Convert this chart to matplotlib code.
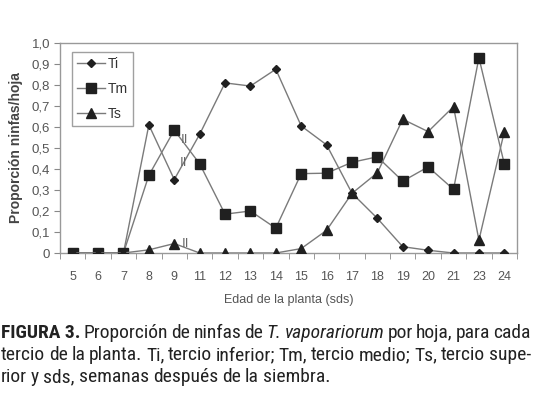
"""
Proporcion de ninfas por hoja, por tercio de la planta (Figura 3).
"""
import matplotlib
matplotlib.use("Agg")
import matplotlib.pyplot as plt
import numpy as np

plt.rcParams['font.family'] = ['Liberation Sans', 'DejaVu Sans']
CAP_FONT = ['Roboto Condensed', 'Liberation Sans', 'DejaVu Sans']

# DATA
#####################
semanas = ['5', '6', '7', '8', '9', '11', '12', '13', '14', '15', '16', '17', '18', '19', '20', '21', '23', '24']
ti = [0, 0, 0, 0.61, 0.35, 0.565, 0.81, 0.795, 0.875, 0.605, 0.515, 0.285, 0.165, 0.03, 0.013, 0, 0, 0]
tm = [0, 0, 0, 0.37, 0.585, 0.425, 0.185, 0.2, 0.118, 0.378, 0.38, 0.432, 0.458, 0.342, 0.41, 0.303, 0.93, 0.424]
ts = [0, 0, 0, 0.015, 0.045, 0, 0, 0, 0, 0.021, 0.108, 0.284, 0.382, 0.637, 0.578, 0.697, 0.061, 0.578]
yticks = [0, 0.1, 0.2, 0.3, 0.4, 0.5, 0.6, 0.7, 0.8, 0.9, 1.0]
ytick_labels = ['0', '0,1', '0,2', '0,3', '0,4', '0,5', '0,6', '0,7', '0,8', '0,9', '1,0']

W, H = 537, 393
fig = plt.figure(figsize=(W / 100, H / 100), dpi=100)
ax = fig.add_axes([60 / W, 1 - 253 / H, (517 - 60) / W, (253 - 43) / H])

line_c = '#7a7a7a'
mark_c = '#202020'
x = np.arange(len(semanas))
ax.plot(x, ti, color=line_c, lw=1.0, marker='D', ms=4.5, mfc=mark_c, mec=mark_c, label='Ti', zorder=3)
ax.plot(x, tm, color=line_c, lw=1.0, marker='s', ms=6.5, mfc=mark_c, mec=mark_c, label='Tm', zorder=3)
ax.plot(x, ts, color=line_c, lw=1.0, marker='^', ms=6.5, mfc=mark_c, mec=mark_c, label='Ts', zorder=3)

# break marks between 9 and 11
for xx, yy in [(4.4, 0.54), (4.35, 0.43), (4.45, 0.045)]:
    ax.text(xx, yy, 'II', fontsize=9.5, color='#666666', ha='center', va='center', zorder=4)

ax.set_xlim(-0.5, len(semanas) - 0.5)
ax.set_ylim(0, 1.0)
ax.set_yticks(yticks)
ax.set_yticklabels(ytick_labels)
ax.set_xticks(x)
ax.set_xticklabels(semanas)
ax.set_xticks(np.arange(-0.5, len(semanas), 1), minor=True)
ax.tick_params(axis='x', which='major', length=0, pad=13, labelsize=9, labelcolor='#555555')
ax.tick_params(axis='x', which='minor', length=4, color='#888888', direction='out')
ax.tick_params(axis='y', length=4, color='#888888', labelsize=9.5, labelcolor='#555555', pad=3)
for s in ax.spines.values():
    s.set_color('#999999')
    s.set_linewidth(1.0)

ax.set_xlabel('Edad de la planta (sds)', fontsize=9, color='#555555', labelpad=8)
ax.set_ylabel('Proporción ninfas/hoja', fontsize=10, color='#444444', fontweight='bold', labelpad=6)

leg = ax.legend(loc='upper left', bbox_to_anchor=(0.027, 0.957), fontsize=10, frameon=True,
                fancybox=False, edgecolor='#888888', handlelength=2.0, borderpad=0.35,
                labelspacing=0.8, handletextpad=0.2, borderaxespad=0)
leg.get_frame().set_linewidth(1.0)
for t in leg.get_texts():
    t.set_color('#333333')

# CAPTION (justified)
#####################
cap_lines = [
    [('FIGURA 3.', 'bold'), ('Proporción', 'n'), ('de', 'n'), ('ninfas', 'n'), ('de', 'n'),
     ('T.', 'i'), ('vaporariorum', 'i'), ('por', 'n'), ('hoja,', 'n'), ('para', 'n'), ('cada', 'n')],
    [('tercio', 'n'), ('de', 'n'), ('la', 'n'), ('planta.', 'n'), ('Ti,', 'n'), ('tercio', 'n'),
     ('inferior;', 'n'), ('Tm,', 'n'), ('tercio', 'n'), ('medio;', 'n'), ('Ts,', 'n'), ('tercio', 'n'), ('supe-', 'n')],
    [('rior', 'n'), ('y', 'n'), ('sds,', 'n'), ('semanas', 'n'), ('después', 'n'), ('de', 'n'), ('la', 'n'), ('siembra.', 'n')],
]
justify = [True, True, False]
cap_y = [333, 355, 377]
x0, x1 = 1, 531
fig.canvas.draw()
rend = fig.canvas.get_renderer()
for words, just, yp in zip(cap_lines, justify, cap_y):
    texts = []
    for w, st in words:
        kw = dict(fontsize=14, color='#222222', va='center', ha='left', family=CAP_FONT)
        if st == 'bold':
            kw['fontweight'] = 'bold'
        if st == 'i':
            kw['fontstyle'] = 'italic'
        texts.append(fig.text(0, 1 - yp / H, w, **kw))
    widths = [t.get_window_extent(rend).width for t in texts]
    if just:
        gap = (x1 - x0 - sum(widths)) / (len(texts) - 1)
    else:
        gap = 4.0
    xp = x0
    for t, wd in zip(texts, widths):
        t.set_x(xp / W)
        xp += wd + gap

fig.savefig('out.png', dpi=100)
